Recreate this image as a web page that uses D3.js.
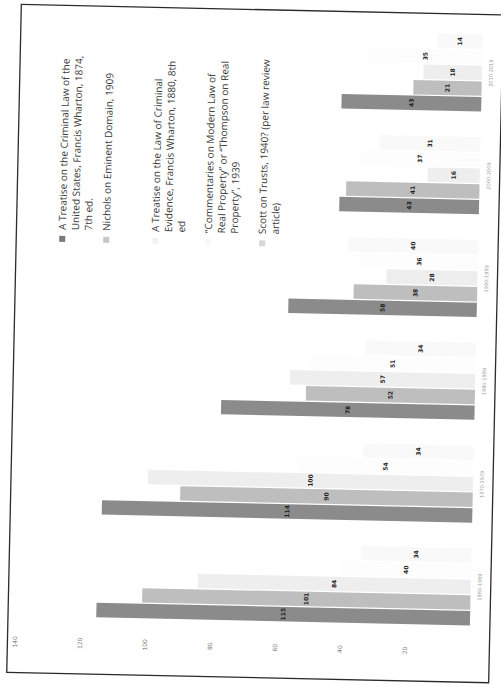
<!DOCTYPE html>
<html><head><meta charset="utf-8">
<script src="https://cdn.jsdelivr.net/npm/d3@7"></script>
<style>body{margin:0;background:#fff}svg{display:block}</style>
</head><body>
<svg id="chart" width="501" height="686"></svg>
<script>
// ---- data ----
const categories = ["1960-1969", "1970-1979", "1980-1989", "1990-1999", "2000-2009", "2010-2019"];
const seriesNames = [
  "A Treatise on the Criminal Law of the United States, Francis Wharton, 1874, 7th ed.",
  "Nichols on Eminent Domain, 1909",
  "A Treatise on the Law of Criminal Evidence, Francis Wharton, 1880, 8th ed",
  "\u201CCommentaries on Modern Law of Real Property\u201D or \u201CThompson on Real Property\u201D, 1939",
  "Scott on Trusts, 1940? (per law review article)"
];
const legendLines = [
  ["A Treatise on the Criminal Law of the", "United States, Francis Wharton, 1874,", "7th ed."],
  ["Nichols on Eminent Domain, 1909"],
  ["A Treatise on the Law of Criminal", "Evidence, Francis Wharton, 1880, 8th", "ed"],
  ["\u201CCommentaries on Modern Law of", "Real Property\u201D or \u201CThompson on Real", "Property\u201D, 1939"],
  ["Scott on Trusts, 1940? (per law review", "article)"]
];
const wharton1874 = [115, 114, 78, 58, 43, 43];
const nichols1909 = [101, 90, 52, 38, 41, 21];
const wharton1880 = [84, 100, 57, 28, 16, 18];
const thompson1939 = [40, 54, 51, 36, 37, 35];
const scott1940 = [34, 34, 34, 40, 31, 14];
const tickValues = [20, 40, 60, 80, 100, 120, 140];

const seriesValues = [wharton1874, nichols1909, wharton1880, thompson1939, scott1940];
const colors = ["#8b8b8b", "#bebebe", "#eeeeee", "#fdfdfd", "#f9f9f9"];
const markerColors = ["#7a7a7a", "#c8c8c8", "#f2f2f2", "#f7f7f7", "#d8d8d8"];

// ---- layout ----
const svg = d3.select("#chart");
const root = svg.append("g").attr("transform", "rotate(1.25,250,343)");

// page frame
root.append("rect").attr("x", 14).attr("y", 9.5).attr("width", 482).attr("height", 668)
  .attr("fill", "none").attr("stroke", "#2b2b2b").attr("stroke-width", 1.3);

const x = d3.scaleLinear().domain([0, 140]).range([476, 21]);
const y = d3.scaleBand().domain(categories).range([633.4, 16.6]).paddingInner(0.25).paddingOuter(0.125);
const sub = d3.scaleBand().domain(d3.range(seriesValues.length)).range([y.bandwidth(), 0]).paddingInner(0.08);

const rows = [];
seriesValues.forEach((vals, si) => vals.forEach((v, ci) => rows.push({si, ci, v})));

const bars = root.append("g");
bars.selectAll("rect").data(rows).join("rect")
  .attr("x", d => x(d.v))
  .attr("y", d => y(categories[d.ci]) + sub(d.si))
  .attr("width", d => x(0) - x(d.v))
  .attr("height", sub.bandwidth())
  .attr("fill", d => colors[d.si]);

// data labels at bar centres, rotated like the scan
root.append("g").selectAll("text").data(rows).join("text")
  .attr("transform", d => `translate(${(x(d.v) + x(0)) / 2},${y(categories[d.ci]) + sub(d.si) + sub.bandwidth() / 2}) rotate(-90)`)
  .attr("text-anchor", "middle").attr("dy", "0.35em")
  .attr("font-family", "DejaVu Sans").attr("font-size", 6).attr("font-weight", "bold")
  .attr("fill", "#1e1e1e").text(d => d.v);

// value axis (tick labels only), rotated text
const axisG = root.append("g").attr("transform", "translate(0,647)");
const ax = d3.axisBottom(x).tickValues(tickValues).tickSize(0).tickFormat(d3.format("d"));
axisG.call(ax);
axisG.select(".domain").remove();
axisG.selectAll("text")
  .attr("font-family", "DejaVu Sans").attr("font-size", 6).attr("fill", "#808080")
  .attr("transform", "rotate(-90)").attr("text-anchor", "middle").attr("x", 0).attr("y", 0).attr("dy", "0.35em");

// category axis on the right
const catG = root.append("g").attr("transform", `translate(${x(0) + 9},0)`);
const ay = d3.axisRight(y).tickSize(0);
catG.call(ay);
catG.select(".domain").remove();
catG.selectAll("text")
  .attr("font-family", "DejaVu Sans").attr("font-size", 5).attr("fill", "#9a9a9a")
  .attr("transform", "rotate(-90)").attr("text-anchor", "middle").attr("x", 0).attr("dy", "0.35em");

// legend (rotated, reading bottom to top)
const legendX = [60, 104, 153, 206, 260];
const lineH = 13;
const leg = root.append("g");
legendLines.forEach((lines, i) => {
  leg.append("rect").attr("x", legendX[i] - 3).attr("y", 240).attr("width", 6).attr("height", 6)
    .attr("fill", markerColors[i]);
  lines.forEach((ln, j) => {
    leg.append("text")
      .attr("transform", `translate(${legendX[i] + j * lineH},234) rotate(-90)`)
      .attr("dy", "0.35em")
      .attr("font-family", "Open Sans").attr("font-size", 10).attr("fill", "#3a3a3a")
      .text(ln);
  });
});
</script>
</body></html>
